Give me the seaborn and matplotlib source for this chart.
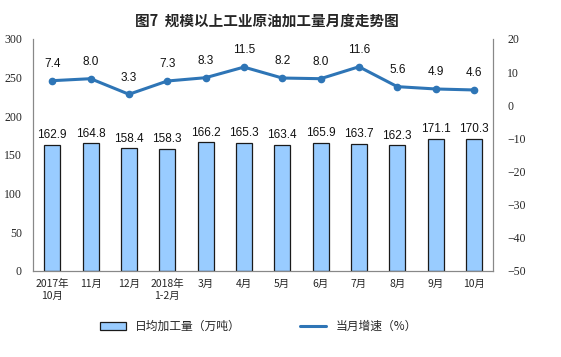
import matplotlib
matplotlib.use("Agg")
import matplotlib.pyplot as plt
import seaborn as sns
import pandas as pd
import numpy as np
from matplotlib.lines import Line2D
from matplotlib.patches import Patch

sns.set_theme(style="white")
plt.rcParams['font.family'] = ['Noto Sans CJK SC', 'DejaVu Sans']

months = ["2017年\n10月", "11月", "12月", "2018年\n1-2月", "3月", "4月", "5月", "6月", "7月", "8月", "9月", "10月"]
output = [162.9, 164.8, 158.4, 158.3, 166.2, 165.3, 163.4, 165.9, 163.7, 162.3, 171.1, 170.3]
growth = [7.4, 8.0, 3.3, 7.3, 8.3, 11.5, 8.2, 8.0, 11.6, 5.6, 4.9, 4.6]

df = pd.DataFrame({"month": months, "output": output, "growth": growth})

fig = plt.figure(figsize=(5.61, 3.57), dpi=100)
ax = fig.add_axes([0.059, 0.241, 0.820, 0.650])
sns.barplot(data=df, x="month", y="output", ax=ax, color="#99CCFF",
            edgecolor="#1a1a1a", linewidth=0.9, width=0.42, saturation=1)
ax.set_ylim(0, 300)
ax.set_yticks(range(0, 301, 50))
ax.set_xlim(-0.5, len(months) - 0.5)
ax.set_xlabel("")
ax.set_ylabel("")
for i, v in enumerate(output):
    ax.text(i, v + 5, f"{v:.1f}", ha="center", va="bottom", fontsize=8.5,
            family=["Liberation Sans", "DejaVu Sans"], color="#111111")

ax2 = ax.twinx()
ax2.plot(np.arange(len(months)), growth, color="#2E75B6", lw=2.2, marker="o", ms=4.5)
ax2.set_ylim(-50, 20)
ax2.set_yticks(range(-50, 21, 10))
for i, v in enumerate(growth):
    ax2.text(i, v + 3.2, f"{v:.1f}", ha="center", va="bottom", fontsize=8.5,
             family=["Liberation Sans", "DejaVu Sans"], color="#111111")

for a in (ax, ax2):
    for s in a.spines.values():
        s.set_color("#888888")
        s.set_linewidth(0.8)
    a.spines["top"].set_visible(False)
    a.grid(False)

ax.tick_params(axis="y", labelsize=8.5, length=0, pad=8)
ax2.tick_params(axis="y", labelsize=8.5, length=0, pad=10)
for lab in ax.get_yticklabels() + ax2.get_yticklabels():
    lab.set_family(["Liberation Serif", "DejaVu Serif"])
ax.tick_params(axis="x", labelsize=7.5, length=0, pad=6)
ax.set_xticks(range(len(months)))
ax.set_xticklabels(months, fontsize=7.5, linespacing=1.2)

fig.suptitle("图7  规模以上工业原油加工量月度走势图", x=0.475, y=0.965, fontsize=10.5, fontweight="bold")

handles = [Patch(facecolor="#99CCFF", edgecolor="#1a1a1a", linewidth=0.9, label="日均加工量（万吨）"),
           Line2D([0], [0], color="#2E75B6", lw=2.2, label="当月增速（%）")]
fig.legend(handles=handles, loc="center", bbox_to_anchor=(0.46, 0.085), ncol=2,
           frameon=False, fontsize=8.5, columnspacing=5, handlelength=2.2)

fig.savefig("out.png", dpi=100)
